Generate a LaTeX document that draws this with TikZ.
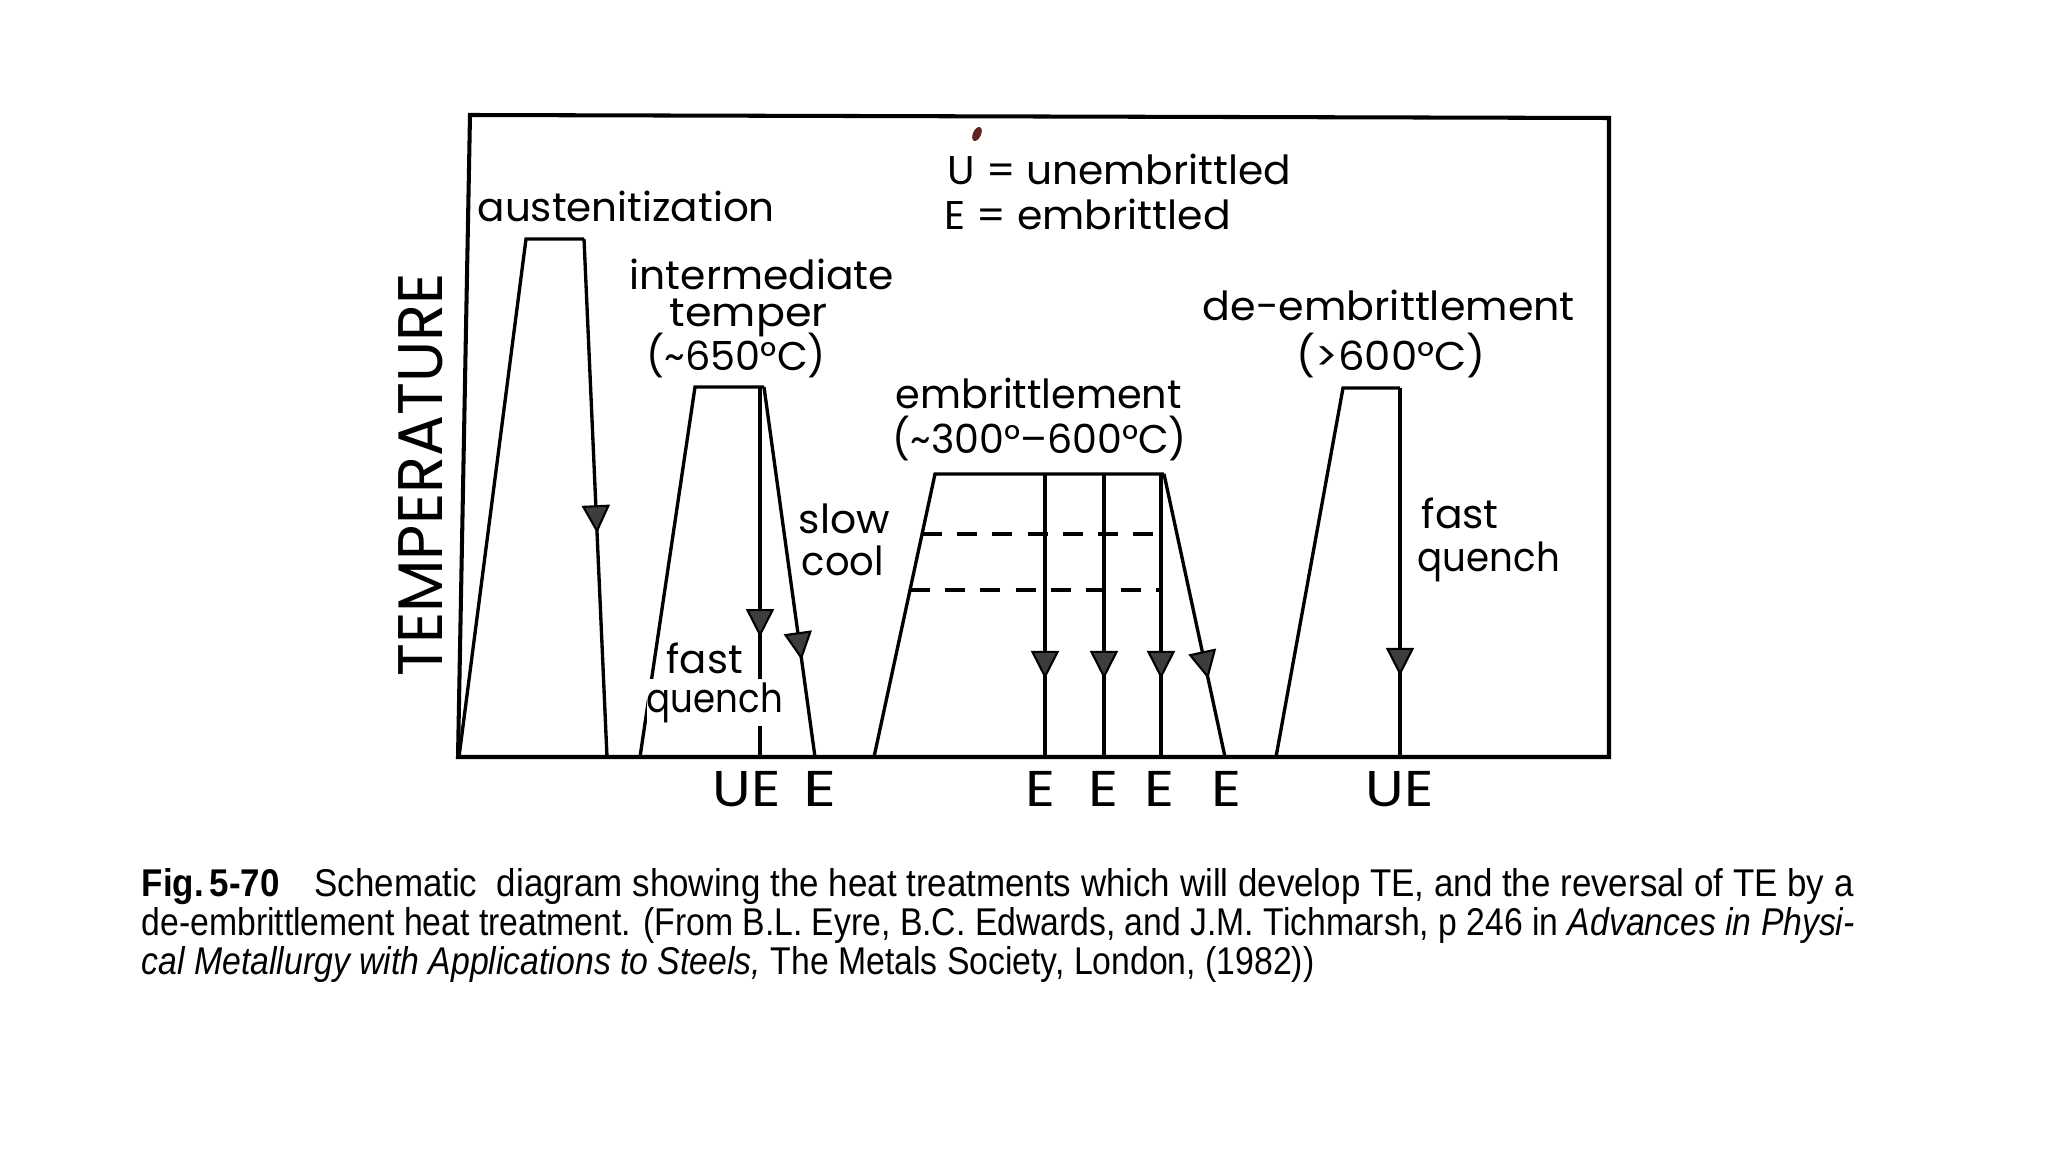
\documentclass[tikz,border=0pt]{standalone}
\usepackage{fontspec}
\usepackage{graphicx}
\setmainfont{Liberation Sans}
\newfontfamily\letfont{Poppins}
\usetikzlibrary{arrows.meta,decorations.markings}
\definecolor{blob}{RGB}{95,35,35}
\newcommand{\fw}[2]{\resizebox{#1}{\height}{#2}}
\tikzset{
  ln/.style={line width=0.95pt, black},
  frm/.style={line width=1.15pt, black, line join=miter},
  dsh/.style={line width=0.95pt, black, dash pattern=on 5.7pt off 4.3pt},
  lbl/.style={inner sep=0pt, anchor=base west, font=\letfont\fontsize{11.4}{13}\selectfont},
  blbl/.style={inner sep=0pt, anchor=base west, font=\letfont\fontsize{14.3}{16}\selectfont},
  captxt/.style={inner sep=0pt, anchor=base west, font=\fontsize{11}{13}\selectfont},
  marr/.style={postaction={decorate}, decoration={markings, mark=at position #1 with {\arrow{Triangle[width=0.28cm,length=0.28cm,fill=black!76,line width=0.6pt]}}}}
}
\begin{document}
\begin{tikzpicture}[x=0.01cm,y=-0.01cm]
\useasboundingbox (0,0) rectangle (2048,1152);
\fill[white] (0,0) rectangle (2048,1152);

% austenitization
\draw[ln] (459,757) -- (526,239) -- (584,239);
\draw[ln, marr=0.568] (584,239) -- (607,757);
% intermediate temper
\draw[ln] (640,757) -- (695,387) -- (764,387);
\draw[ln, marr=0.676] (760,387) -- (760,757);
\draw[ln, marr=0.738] (764,387) -- (815,757);
% embrittlement
\draw[ln] (874,757) -- (935,474) -- (1164,474);
\foreach \xx in {1045,1104,1161} {\draw[ln, marr=0.724] (\xx,474) -- (\xx,757);}
\draw[ln, marr=0.724] (1164,474) -- (1225,757);
\draw[dsh] (922,534) -- (1155,534);
\draw[dsh] (910,590) -- (1161,590);
% de-embrittlement
\draw[ln] (1276,757) -- (1343,388) -- (1400,388);
\draw[ln, marr=0.78] (1400,388) -- (1400,757);
% frame
\draw[frm] (470,115) -- (1609,118) -- (1609,757) -- (458,757) -- cycle;
\fill[blob, rotate around={-25:(977,134)}] (977,134) ellipse [x radius=0.04cm, y radius=0.075cm];

% labels
\node[lbl] (aus) at (477,222) {\fw{2.97cm}{austenitization}};
\node[lbl] (int1) at (629,290) {\fw{2.64cm}{intermediate}};
\node[lbl] (int2) at (669,327) {\fw{1.58cm}{temper}};
\node[lbl] (int3) at (646,371) {\fw{1.79cm}{(\textasciitilde650°C)}};
\node[lbl] (slow) at (798,533) {\fw{0.91cm}{slow}};
\node[lbl] (cool) at (801,575) {\fw{0.82cm}{cool}};
\node[lbl] (fq1) at (666,673) {\fw{0.76cm}{fast}};
\node[lbl, fill=white, inner ysep=1pt] (fq2) at (646,712) {\fw{1.36cm}{quench}};
\node[lbl] (emb1) at (895,409) {\fw{2.86cm}{embrittlement}};
\node[lbl] (emb2) at (892,454) {\fw{2.94cm}{(\textasciitilde300°–600°C)}};
\node[lbl] (leg1) at (947,185) {\fw{3.43cm}{U = unembrittled}};
\node[lbl] (leg2) at (944,230) {\fw{2.86cm}{E = embrittled}};
\node[lbl] (de1) at (1202,321) {\fw{3.72cm}{de-embrittlement}};
\node[lbl] (de2) at (1296,371) {\fw{1.89cm}{(>600°C)}};
\node[lbl] (fq3) at (1421,529) {\fw{0.77cm}{fast}};
\node[lbl] (fq4) at (1417,571) {\fw{1.42cm}{quench}};

\node[inner sep=0pt, rotate=90, font=\letfont\fontsize{17.9}{20}\selectfont] (temp) at (421,475) {\fw{4.03cm}{TEMPERATURE}};

% bottom labels
\node[blbl] (b1) at (712,806) {\fw{0.68cm}{UE}};
\node[blbl] (b2) at (803,806) {\fw{0.33cm}{E}};
\node[blbl] (b3) at (1025,806) {\fw{0.30cm}{E}};
\node[blbl] (b4) at (1088,806) {\fw{0.30cm}{E}};
\node[blbl] (b5) at (1144,806) {\fw{0.30cm}{E}};
\node[blbl] (b6) at (1211,806) {\fw{0.30cm}{E}};
\node[blbl] (b7) at (1365,806) {\fw{0.68cm}{UE}};

% caption
\node[captxt] (c1) at (141,896) {\fw{17.11cm}{\textbf{Fig.\,5-70}\hspace{1.0em}Schematic\ \ diagram showing the heat treatments which will develop TE, and the reversal of TE by a}};
\node[captxt] (c2) at (141,935) {\fw{17.12cm}{de-embrittlement heat treatment. (From B.L. Eyre, B.C. Edwards, and J.M. Tichmarsh, p 246 in \textit{Advances in Physi-}}};
\node[captxt] (c3) at (141,974) {\fw{11.72cm}{\textit{cal Metallurgy with Applications to Steels,} The Metals Society, London, (1982))}};
\end{tikzpicture}
\end{document}
